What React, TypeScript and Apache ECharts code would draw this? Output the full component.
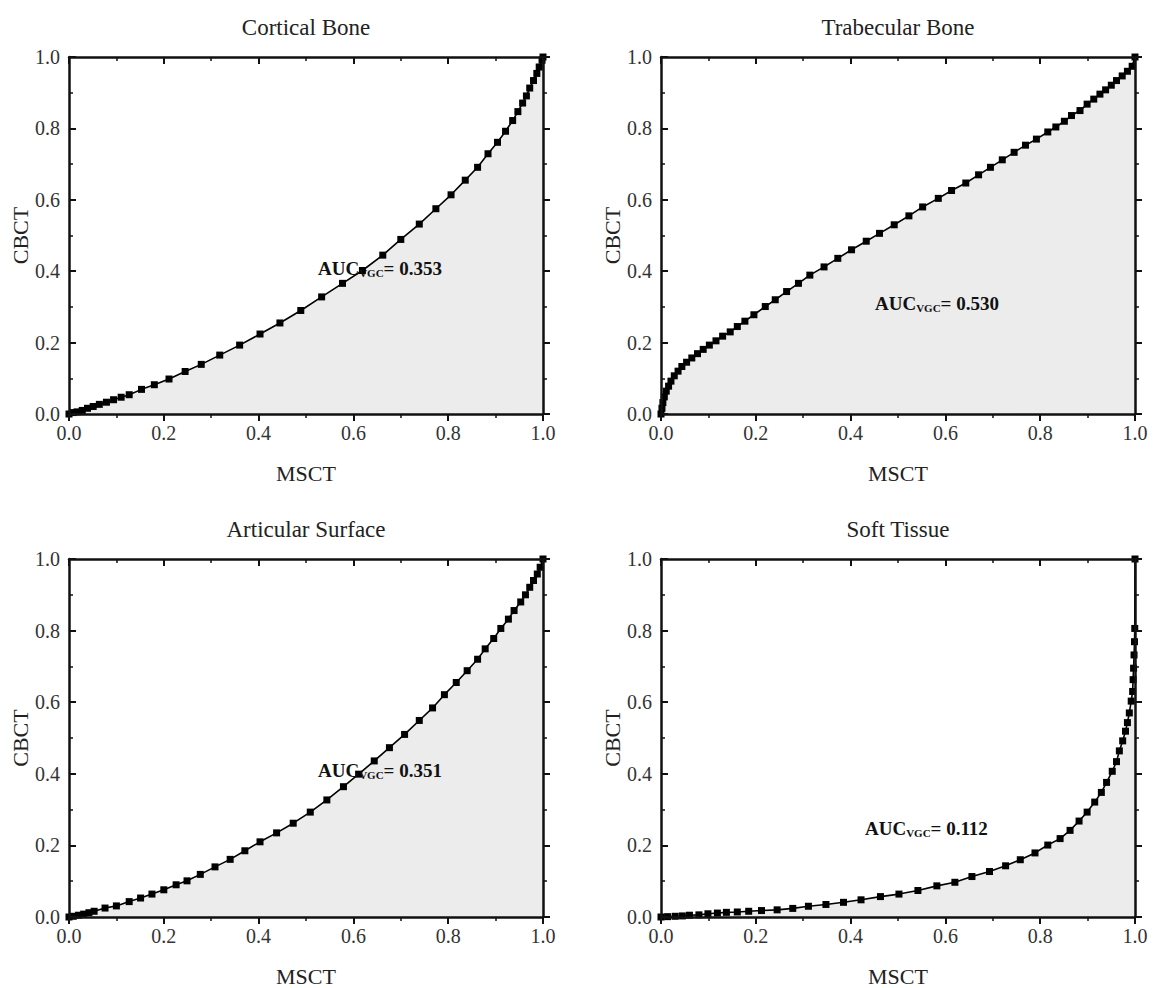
import React, { useEffect, useRef } from "react";
import * as echarts from "echarts";

const panelTitles = ["Cortical Bone", "Trabecular Bone", "Articular Surface", "Soft Tissue"];
const aucValues = ["0.353", "0.530", "0.351", "0.112"];
const xAxisName = "MSCT";
const yAxisName = "CBCT";

const corticalX = [0, 0.009, 0.017, 0.028, 0.039, 0.051, 0.064, 0.079, 0.094, 0.11, 0.127, 0.153, 0.18, 0.211, 0.245, 0.279, 0.318, 0.36, 0.403, 0.445, 0.489, 0.533, 0.577, 0.619, 0.662, 0.7, 0.739, 0.774, 0.806, 0.836, 0.862, 0.884, 0.904, 0.921, 0.936, 0.947, 0.957, 0.965, 0.972, 0.98, 0.987, 0.992, 0.998, 1.0];
const corticalY = [0, 0.004, 0.006, 0.01, 0.016, 0.021, 0.027, 0.033, 0.04, 0.047, 0.054, 0.069, 0.082, 0.098, 0.119, 0.139, 0.165, 0.193, 0.224, 0.255, 0.29, 0.328, 0.366, 0.402, 0.445, 0.489, 0.532, 0.575, 0.614, 0.655, 0.691, 0.729, 0.761, 0.792, 0.822, 0.847, 0.871, 0.891, 0.913, 0.934, 0.954, 0.972, 0.991, 1.0];

const trabecularX = [0, 0.002, 0.004, 0.007, 0.011, 0.016, 0.021, 0.028, 0.036, 0.044, 0.054, 0.065, 0.077, 0.089, 0.102, 0.116, 0.13, 0.146, 0.161, 0.177, 0.196, 0.22, 0.241, 0.265, 0.29, 0.314, 0.344, 0.373, 0.402, 0.433, 0.461, 0.492, 0.523, 0.552, 0.585, 0.613, 0.643, 0.67, 0.695, 0.72, 0.745, 0.769, 0.792, 0.816, 0.833, 0.851, 0.866, 0.884, 0.899, 0.913, 0.926, 0.938, 0.95, 0.961, 0.973, 0.984, 0.994, 1.0];
const trabecularY = [0, 0.016, 0.032, 0.048, 0.064, 0.078, 0.092, 0.107, 0.12, 0.133, 0.145, 0.157, 0.169, 0.181, 0.193, 0.205, 0.218, 0.23, 0.245, 0.26, 0.278, 0.301, 0.32, 0.343, 0.366, 0.389, 0.412, 0.436, 0.46, 0.484, 0.506, 0.53, 0.555, 0.58, 0.604, 0.626, 0.647, 0.67, 0.691, 0.712, 0.733, 0.753, 0.77, 0.79, 0.804, 0.82, 0.836, 0.85, 0.868, 0.882, 0.896, 0.908, 0.921, 0.934, 0.947, 0.96, 0.974, 1.0];

const articularX = [0, 0.009, 0.02, 0.031, 0.042, 0.053, 0.076, 0.1, 0.127, 0.151, 0.175, 0.2, 0.226, 0.249, 0.277, 0.308, 0.34, 0.371, 0.403, 0.438, 0.473, 0.509, 0.544, 0.579, 0.611, 0.644, 0.676, 0.708, 0.739, 0.767, 0.792, 0.817, 0.84, 0.862, 0.878, 0.896, 0.911, 0.927, 0.939, 0.953, 0.963, 0.972, 0.98, 0.988, 0.994, 1.0];
const articularY = [0, 0.002, 0.005, 0.008, 0.012, 0.016, 0.025, 0.031, 0.043, 0.053, 0.064, 0.076, 0.09, 0.101, 0.119, 0.14, 0.161, 0.185, 0.21, 0.235, 0.262, 0.293, 0.327, 0.364, 0.399, 0.436, 0.473, 0.51, 0.549, 0.584, 0.621, 0.655, 0.688, 0.72, 0.749, 0.778, 0.806, 0.832, 0.856, 0.88, 0.9, 0.921, 0.94, 0.958, 0.977, 1.0];

const softX = [0, 0.014, 0.03, 0.045, 0.06, 0.08, 0.099, 0.119, 0.138, 0.161, 0.185, 0.212, 0.245, 0.278, 0.311, 0.348, 0.385, 0.422, 0.463, 0.502, 0.542, 0.582, 0.62, 0.656, 0.693, 0.727, 0.758, 0.789, 0.816, 0.842, 0.863, 0.882, 0.899, 0.915, 0.929, 0.94, 0.952, 0.961, 0.967, 0.974, 0.98, 0.984, 0.988, 0.992, 0.995, 0.996, 0.997, 0.998, 0.999, 0.9995, 1.0];
const softY = [0, 0.001, 0.002, 0.003, 0.005, 0.006, 0.009, 0.011, 0.013, 0.014, 0.016, 0.018, 0.02, 0.024, 0.03, 0.035, 0.041, 0.048, 0.057, 0.064, 0.074, 0.087, 0.097, 0.113, 0.127, 0.143, 0.16, 0.179, 0.201, 0.219, 0.242, 0.268, 0.293, 0.321, 0.348, 0.376, 0.407, 0.434, 0.464, 0.492, 0.519, 0.543, 0.57, 0.603, 0.63, 0.663, 0.695, 0.732, 0.769, 0.806, 1.0];

const panelX = [corticalX, trabecularX, articularX, softX];
const panelY = [corticalY, trabecularY, articularY, softY];

const SERIF = "'Liberation Serif', 'Times New Roman', serif";

const gridRects = [
  { left: 69, top: 57, width: 474, height: 357 },
  { left: 661, top: 57, width: 474, height: 357 },
  { left: 69, top: 559, width: 474, height: 358 },
  { left: 661, top: 559, width: 474, height: 358 },
];
const aucPos = [
  { x: 318, y: 268 },
  { x: 875, y: 303 },
  { x: 318, y: 770 },
  { x: 865, y: 828 },
];

function axisBase(inside: boolean, showLabel: boolean) {
  return {
    type: "value",
    min: 0,
    max: 1,
    interval: 0.2,
    splitLine: { show: false },
    z: 5,
    axisLine: { show: true, onZero: false, lineStyle: { color: "#111", width: 2.5 } },
    axisTick: { show: true, inside, length: 7, lineStyle: { color: "#111", width: 2 } },
    minorTick: { show: true, splitNumber: 2, length: 4, lineStyle: { color: "#111", width: 1.5 } },
    axisLabel: {
      show: showLabel,
      color: "#333",
      fontFamily: SERIF,
      fontSize: 20,
      margin: 9,
      formatter: (v: number) => v.toFixed(1),
    },
  };
}

export default function App() {
  const ref = useRef<HTMLDivElement>(null);
  useEffect(() => {
    document.body.style.margin = "0";
    if (!ref.current) return;
    const chart = echarts.init(ref.current, undefined, { renderer: "svg" });
    const grid: any[] = [];
    const xAxis: any[] = [];
    const yAxis: any[] = [];
    const series: any[] = [];
    const graphic: any[] = [];
    gridRects.forEach((g, i) => {
      grid.push({ ...g, containLabel: false });
      xAxis.push({
        ...axisBase(false, true),
        gridIndex: i,
        position: "bottom",
        name: xAxisName,
        nameLocation: "middle",
        nameGap: 48,
        nameTextStyle: { color: "#222", fontFamily: SERIF, fontSize: 22 },
      });
      xAxis.push({ ...axisBase(true, false), gridIndex: i, position: "top" });
      yAxis.push({
        ...axisBase(true, true),
        gridIndex: i,
        position: "left",
        name: yAxisName,
        nameLocation: "middle",
        nameGap: 36,
        nameTextStyle: { color: "#222", fontFamily: SERIF, fontSize: 22 },
      });
      yAxis.push({ ...axisBase(false, false), gridIndex: i, position: "right" });
      series.push({
        type: "line",
        xAxisIndex: i * 2,
        yAxisIndex: i * 2,
        data: panelX[i].map((x, k) => [x, panelY[i][k]]),
        symbol: "rect",
        symbolSize: 7,
        showSymbol: true,
        clip: false,
        itemStyle: { color: "#000" },
        lineStyle: { color: "#000", width: 1.6 },
        areaStyle: { color: "#ececec", opacity: 1 },
        z: 3,
      });
      graphic.push({
        type: "text",
        x: g.left + g.width / 2,
        y: g.top - 30,
        style: {
          text: panelTitles[i],
          align: "center",
          verticalAlign: "middle",
          fill: "#222",
          font: `23px ${SERIF}`,
        },
      });
      graphic.push({
        type: "text",
        x: aucPos[i].x,
        y: aucPos[i].y,
        z: 10,
        style: {
          text: `{a|AUC}{b|VGC}{a|= ${aucValues[i]}}`,
          align: "left",
          verticalAlign: "middle",
          rich: {
            a: { fontFamily: SERIF, fontSize: 19, fontWeight: "bold", fill: "#111", lineHeight: 20, verticalAlign: "middle" },
            b: { fontFamily: SERIF, fontSize: 11, fontWeight: "bold", fill: "#111", lineHeight: 8, verticalAlign: "bottom" },
          },
        },
      });
    });
    chart.setOption({
      animation: false,
      backgroundColor: "#fff",
      grid,
      xAxis,
      yAxis,
      series,
      graphic,
    });
    return () => chart.dispose();
  }, []);
  return <div ref={ref} style={{ position: "absolute", left: 0, top: 0, width: 1153, height: 988 }} />;
}
